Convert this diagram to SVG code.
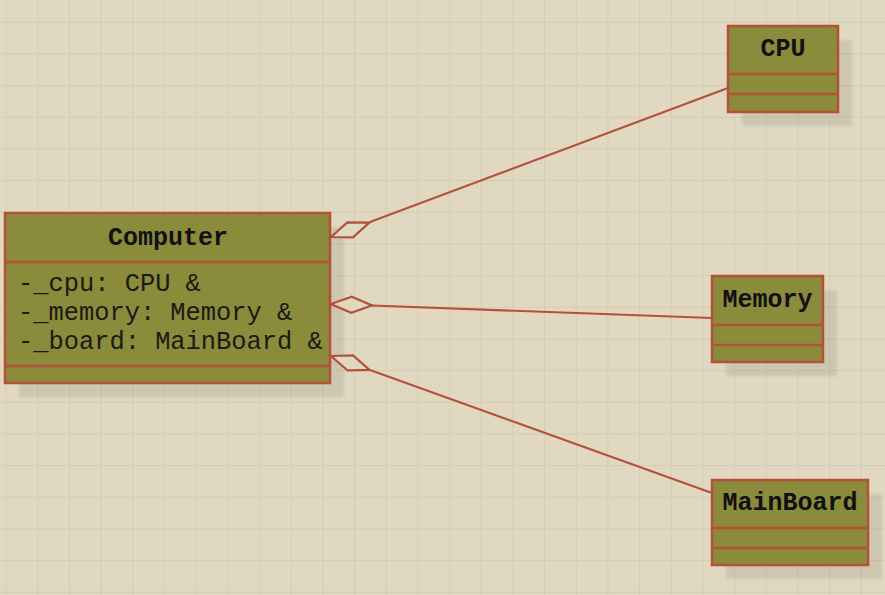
<svg xmlns="http://www.w3.org/2000/svg" width="885" height="595" viewBox="0 0 885 595">
<defs>
<pattern id="grid" x="5.7" y="21.7" width="31.67" height="31.67" patternUnits="userSpaceOnUse">
<path d="M0 0V31.67M0 0H31.67" fill="none" stroke="#d5ccb2" stroke-width="1.8"/>
</pattern>
<filter id="blur" x="-10%" y="-10%" width="120%" height="120%"><feGaussianBlur stdDeviation="1.5"/></filter>
</defs>
<style>
.box{fill:#8a8b3b;stroke:#b5503a;stroke-width:2.5}
.sep{stroke:#b5503a;stroke-width:2.5}
.shadow{fill:#000;opacity:0.08;filter:url(#blur)}
.title{font-family:"Liberation Mono","DejaVu Sans Mono",monospace;font-size:25px;font-weight:bold;fill:#111;text-anchor:middle}
.attr{font-family:"Liberation Mono","DejaVu Sans Mono",monospace;font-size:25.4px;fill:#1a1a10}
.link{fill:none;stroke:#b5503a;stroke-width:2.2}
.dia{fill:#e0d8c0;stroke:#b5503a;stroke-width:2.2}
</style>
<rect width="885" height="595" fill="#e0d8c0"/>
<rect width="885" height="595" fill="url(#grid)"/>

<g id="Computer">
<rect class="shadow" x="19" y="227" width="325" height="170"/>
<rect class="box" x="5" y="213" width="325" height="170"/>
<line class="sep" x1="5" y1="262" x2="330" y2="262"/>
<line class="sep" x1="5" y1="366" x2="330" y2="366"/>
<text class="title" x="168" y="245">Computer</text>
<text class="attr" x="18" y="291">-_cpu: CPU &amp;</text>
<text class="attr" x="18" y="320">-_memory: Memory &amp;</text>
<text class="attr" x="18" y="349">-_board: MainBoard &amp;</text>
</g>

<g id="CPU">
<rect class="shadow" x="742" y="40" width="110" height="86"/>
<rect class="box" x="728" y="26" width="110" height="86"/>
<line class="sep" x1="728" y1="74" x2="838" y2="74"/>
<line class="sep" x1="728" y1="94" x2="838" y2="94"/>
<text class="title" x="783" y="56">CPU</text>
</g>

<g id="Memory">
<rect class="shadow" x="726" y="290" width="111" height="86"/>
<rect class="box" x="712" y="276" width="111" height="86"/>
<line class="sep" x1="712" y1="325" x2="823" y2="325"/>
<line class="sep" x1="712" y1="345" x2="823" y2="345"/>
<text class="title" x="767.5" y="307">Memory</text>
</g>

<g id="MainBoard">
<rect class="shadow" x="726" y="494" width="156" height="85"/>
<rect class="box" x="712" y="480" width="156" height="85"/>
<line class="sep" x1="712" y1="528" x2="868" y2="528"/>
<line class="sep" x1="712" y1="548" x2="868" y2="548"/>
<text class="title" x="790" y="510">MainBoard</text>
</g>

<g id="connectors">
<line class="link" x1="370" y1="222" x2="728" y2="88"/>
<polygon class="dia" points="0,0 20.5,-8 41,0 20.5,8" transform="translate(331,237) rotate(-20.57)"/>
<line class="link" x1="372" y1="305.5" x2="712" y2="318"/>
<polygon class="dia" points="0,0 20.5,-8 41,0 20.5,8" transform="translate(331,304) rotate(2.1)"/>
<line class="link" x1="370" y1="370" x2="712" y2="493"/>
<polygon class="dia" points="0,0 20.5,-8 41,0 20.5,8" transform="translate(331,356) rotate(19.78)"/>
</g>
</svg>
